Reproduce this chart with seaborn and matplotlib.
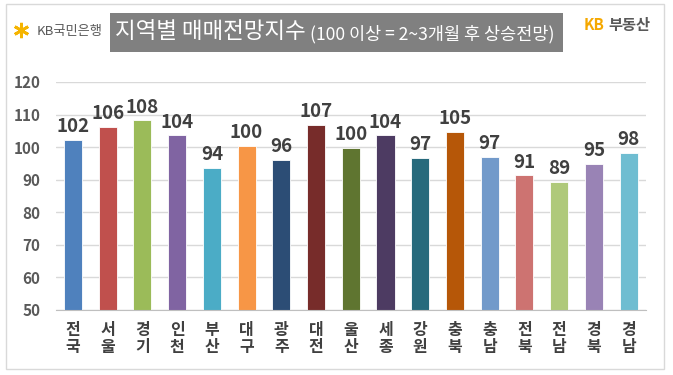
import numpy as np
import pandas as pd
import matplotlib.pyplot as plt
import seaborn as sns
from matplotlib.patches import Rectangle
from matplotlib.lines import Line2D

# 지역별 매매전망지수
regions = ["전국", "서울", "경기", "인천", "부산", "대구", "광주", "대전", "울산",
           "세종", "강원", "충북", "충남", "전북", "전남", "경북", "경남"]
values = [102.3, 106.3, 108.2, 103.6, 93.6, 100.4, 96.1, 106.9, 99.8,
          103.6, 96.7, 104.8, 97.0, 91.3, 89.4, 94.9, 98.1]
labels = [102, 106, 108, 104, 94, 100, 96, 107, 100, 104, 97, 105, 97, 91, 89, 95, 98]
colors = ["#4F81BD", "#C0504D", "#9BBB59", "#8064A2", "#4BACC6", "#F79646",
          "#2C4D75", "#772C2A", "#5F7530", "#4D3B62", "#276A7C", "#B65708",
          "#729ACA", "#CD7371", "#AFC97A", "#9983B5", "#6FBDD1"]
yticks = [50, 60, 70, 80, 90, 100, 110, 120]

sns.set_style("white")
plt.rcParams['font.family'] = ['Noto Sans CJK KR', 'DejaVu Sans']

W, H = 673, 375
fig = plt.figure(figsize=(W / 100, H / 100), dpi=100)

def px(x0, y0, x1, y1):
    # pixel box -> figure fraction [left, bottom, width, height]
    return [x0 / W, 1 - y1 / H, (x1 - x0) / W, (y1 - y0) / H]

ax = fig.add_axes(px(55.6, 82, 646, 310))

df = pd.DataFrame({"region": regions, "value": values})
sns.barplot(data=df, x="region", y="value", hue="region", palette=colors,
            saturation=1, width=0.52, legend=False, ax=ax,
            edgecolor="white", linewidth=0.6)

ax.set_ylim(50, 120)
ax.set_xlim(-0.5, len(regions) - 0.5)
ax.set_yticks(yticks)
ax.set_yticklabels([str(t) for t in yticks], fontsize=11, fontweight="bold", color="#595959")
ax.set_xticks(range(len(regions)))
ax.set_xticklabels([r[0] + "\n" + r[1] for r in regions], fontsize=11.5,
                   fontweight="bold", color="#404040", linespacing=1.05)
ax.tick_params(axis="both", length=0)
ax.tick_params(axis="x", pad=9)
ax.tick_params(axis="y", pad=11)
ax.set_xlabel("")
ax.set_ylabel("")
ax.grid(axis="y", color="#d9d9d9", linewidth=1)
ax.set_axisbelow(True)
for s in ["left", "right", "top"]:
    ax.spines[s].set_visible(False)
ax.spines["bottom"].set_color("#bfbfbf")

for i, (v, lab) in enumerate(zip(values, labels)):
    ax.text(i, v + 1.2, str(lab), ha="center", va="bottom", fontsize=13.5,
            fontweight="bold", color="#404040", clip_on=False)

# outer frame
fig.patches.append(Rectangle((6 / W, 1 - 369 / H), 658 / W, 365 / H, transform=fig.transFigure,
                             fill=False, edgecolor="#d9d9d9", linewidth=1))

# title box
fig.patches.append(Rectangle((110 / W, 1 - 52 / H), 453 / W, 39 / H, transform=fig.transFigure,
                             facecolor="#808080", edgecolor="none"))
fig.text(115 / W, 1 - 32 / H, "지역별 매매전망지수", fontsize=16.2, color="white",
         ha="left", va="center")
fig.text(310 / W, 1 - 34 / H, "(100 이상 = 2~3개월 후 상승전망)", fontsize=12.6,
         color="white", ha="left", va="center")

# KB국민은행 logo
fig.add_artist(Line2D([21 / W], [1 - 30 / H], marker=(6, 2, 0), markersize=11,
                      color="#F5B400", markeredgewidth=2, transform=fig.transFigure))
fig.text(37 / W, 1 - 31 / H, "KB국민은행", fontsize=9.5, color="#595959", ha="left", va="center")

# KB부동산
fig.text(584 / W, 1 - 25 / H, "KB", fontsize=11, fontweight="bold", color="#F5A800",
         ha="left", va="center")
fig.text(608 / W, 1 - 25 / H, "부동산", fontsize=11, fontweight="bold", color="#595959",
         ha="left", va="center")

plt.savefig("out.png", dpi=100)
